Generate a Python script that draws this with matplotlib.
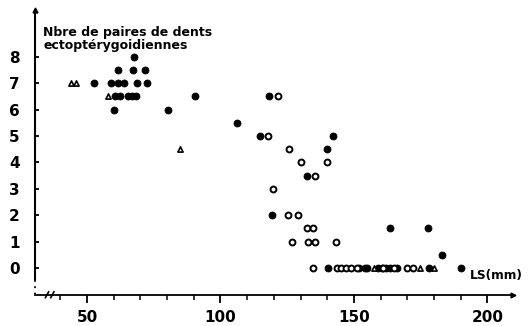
import numpy as np
import matplotlib
matplotlib.use('Agg')
import matplotlib.pyplot as plt

plt.rcParams['font.family'] = ['DejaVu Sans']
plt.rcParams['font.weight'] = 'bold'

# LS (mm) / nombre de paires
plein_ls = [52.6, 59, 61.5, 64, 68.7, 72.5, 67.6, 61.6, 67.2, 71.7,
            60.5, 62.5, 65.5, 67, 68.5, 60, 80.5, 90.4, 118.2, 106.2,
            114.8, 142.1, 139.9, 132.4, 119.3, 163.7, 177.7, 183, 140.2,
            152, 154, 155, 159, 160.5, 162, 163.5, 166, 178, 190]
plein_n = [7, 7, 7, 7, 7, 7, 8, 7.5, 7.5, 7.5,
           6.5, 6.5, 6.5, 6.5, 6.5, 6, 6, 6.5, 6.5, 5.5,
           5, 5, 4.5, 3.5, 2, 1.5, 1.5, 0.5, 0,
           0, 0, 0, 0, 0, 0, 0, 0, 0, 0]

vide_ls = [117.8, 121.5, 125.7, 130.1, 139.9, 135.4, 119.7, 125.3, 129,
           132.4, 134.6, 126.8, 132.8, 135.4, 143.2, 134.6,
           143.5, 145, 147, 149, 151, 161, 165, 170, 172]
vide_n = [5, 6.5, 4.5, 4, 4, 3.5, 3, 2, 2,
          1.5, 1.5, 1, 1, 1, 1, 0,
          0, 0, 0, 0, 0, 0, 0, 0, 0]

tri_ls = [44, 46, 58, 84.8, 157.5, 174.7, 180]
tri_n = [7, 7, 6.5, 4.5, 0, 0, 0]

xticks_maj = [50, 100, 150, 200]
yticks = [0, 1, 2, 3, 4, 5, 6, 7, 8]

fig = plt.figure(figsize=(5.29, 3.26), dpi=100)
ax = fig.add_axes([35/529, 31/326, 478/529, 285/326])
ax.set_xlim(30.5, 209.6)
ax.set_ylim(-1.02, 9.77)

ax.scatter(plein_ls, plein_n, s=26, c='black', edgecolors='black', linewidths=0.5, zorder=3)
ax.scatter(vide_ls, vide_n, s=18, facecolors='white', edgecolors='black', linewidths=1.4, zorder=3)
ax.scatter(tri_ls, tri_n, s=14, marker='^', facecolors='white', edgecolors='black', linewidths=1.2, zorder=3)

# axes
for s in ['top', 'right']:
    ax.spines[s].set_visible(False)
ax.spines['left'].set_linewidth(1.5)
ax.spines['bottom'].set_linewidth(1.3)
ax.spines['left'].set_bounds(-0.4, 9.77)
ax.plot([30.5, 30.5], [-0.45, -1.0], color='black', lw=1.3, ls=(0, (1, 2.5)), clip_on=False)
ax.plot(1, 0, '>k', ms=3.5, transform=ax.transAxes, clip_on=False)
ax.plot(0, 1, '^k', ms=3.5, transform=ax.transAxes, clip_on=False)
# coupure //
for xb in [35, 37]:
    ax.plot([xb - 0.6, xb + 0.6], [-1.12, -0.9], color='black', lw=1.2, clip_on=False)

ax.set_xticks(xticks_maj)
ax.set_xticks(np.arange(40, 201, 10), minor=True)
ax.tick_params(axis='x', which='major', direction='out', length=6, width=1.3, pad=5, labelsize=11)
ax.tick_params(axis='x', which='minor', direction='out', length=3.5, width=1.1)
ax.set_yticks(yticks)
ax.tick_params(axis='y', direction='in', length=3, width=1.3, pad=11, labelsize=11)
for lab in ax.get_xticklabels() + ax.get_yticklabels():
    lab.set_fontweight('bold')

ax.text(43/529, 1 - 26/326, 'Nbre de paires de dents\nectoptérygoidiennes',
        transform=fig.transFigure, fontsize=9, fontweight='bold',
        va='top', ha='left', linespacing=0.95)
ax.text(470/529, 1 - 276/326, 'LS(mm)', transform=fig.transFigure,
        fontsize=8.8, fontweight='bold', va='center', ha='left')

plt.savefig('out.png', dpi=100)
